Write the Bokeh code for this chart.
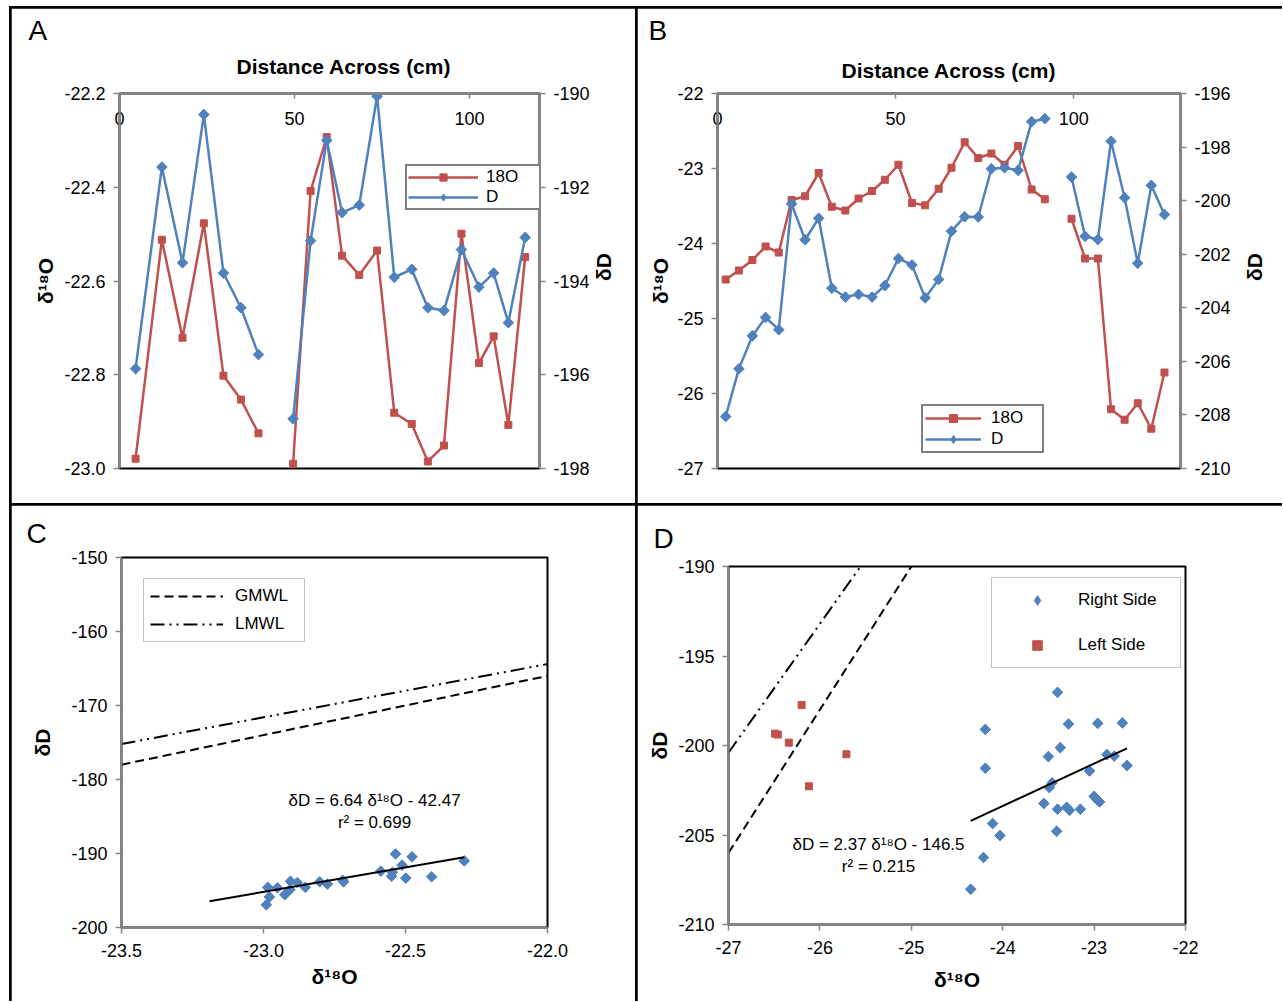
import math
from bokeh.plotting import figure
from bokeh.models import (Range1d, LinearAxis, FixedTicker, NumeralTickFormatter,
                          Legend, LegendItem, Label, Title)
from bokeh.layouts import row, column
from bokeh.embed import file_html
from bokeh.resources import INLINE

FONT = "Liberation Sans"
RED = "#C0504D"
BLUE = "#4F81BD"
GRAY = "#868686"
TICK_SIZE = "18px"
AXL_SIZE = "21px"

# ---------------- data ----------------
# Panel A: transect A (distance across, cm)
a_dist = [4.6, 12.1, 18.0, 24.1, 29.7, 34.7, 39.7, 49.6, 54.6, 59.2, 63.6,
          68.5, 73.6, 78.5, 83.5, 88.1, 92.7, 97.7, 102.7, 106.9, 111.1, 115.9]
a_o18 = [-22.979, -22.512, -22.721, -22.477, -22.802, -22.853, -22.925,
         -22.990, -22.408, -22.293, -22.546, -22.587, -22.535, -22.881,
         -22.905, -22.985, -22.951, -22.499, -22.775, -22.718, -22.907, -22.549]
a_dD = [-195.87, -191.57, -193.61, -190.45, -193.83, -194.57, -195.57,
        -196.94, -193.14, -191.00, -192.54, -192.38, -190.06, -193.92,
        -193.75, -194.57, -194.63, -193.33, -194.13, -193.83, -194.89, -193.07]
a_run = 7  # samples before the gap in the transect

# Panel B: transect B
b_dist = [2.3, 6.0, 9.8, 13.5, 17.2, 20.8, 24.6, 28.4, 32.1, 35.9, 39.6,
          43.4, 47.0, 50.8, 54.6, 58.3, 62.1, 65.7, 69.4, 73.2, 76.9, 80.6,
          84.4, 88.2, 91.9, 99.4, 103.2, 106.8, 110.5, 114.3, 118.0, 121.8, 125.5]
b_o18 = [-24.48, -24.36, -24.22, -24.04, -24.12, -23.42, -23.37, -23.06,
         -23.51, -23.56, -23.40, -23.30, -23.15, -22.95, -23.46, -23.49,
         -23.27, -22.99, -22.65, -22.86, -22.80, -22.95, -22.70, -23.28,
         -23.41, -23.67, -24.20, -24.20, -26.21, -26.35, -26.13, -26.47, -25.72]
b_dD = [-208.06, -206.28, -205.05, -204.36, -204.82, -200.12, -201.46,
        -200.66, -203.27, -203.60, -203.50, -203.60, -203.17, -202.16,
        -202.40, -203.63, -202.94, -201.14, -200.60, -200.61, -198.81,
        -198.77, -198.87, -197.05, -196.94, -199.12, -201.33, -201.45,
        -197.78, -199.89, -202.34, -199.43, -200.52]
b_run = 25

# Panel C: cross plot of transect A
c_o18 = a_o18
c_dD = a_dD
c_slope, c_icpt, c_r2 = 6.64, -42.47, 0.699

# Panel D: cross plot of transect B
d_right_o18 = [-23.40, -24.19, -23.28, -22.96, -22.69, -23.37, -23.50, -22.86,
               -22.78, -24.19, -22.64, -23.05, -23.46, -23.49, -23.00, -22.97,
               -22.94, -23.55, -23.40, -23.30, -23.27, -23.15, -24.11, -24.03,
               -23.41, -24.21, -24.35]
d_right_dD = [-197.03, -199.10, -198.80, -198.76, -198.74, -200.12, -200.62,
              -200.51, -200.59, -201.27, -201.12, -201.42, -202.09, -202.35,
              -202.84, -203.00, -203.15, -203.24, -203.56, -203.45, -203.62,
              -203.56, -204.36, -205.03, -204.79, -206.26, -208.03]
d_left_o18 = [-26.20, -26.49, -26.46, -26.34, -25.71, -26.12]
d_left_dD = [-197.74, -199.34, -199.39, -199.84, -200.49, -202.28]
d_slope, d_icpt, d_r2 = 2.37, -146.5, 0.215

# meteoric water lines
gmwl_slope, gmwl_icpt = 8.0, 10.0
lmwl_slope, lmwl_icpt = 7.2, -6.0


# ---------------- helpers ----------------
def base_fig(w, h, xr, yr, bl, br, bt, bb):
    p = figure(width=w, height=h, x_range=Range1d(*xr), y_range=Range1d(*yr),
               output_backend="svg", toolbar_location=None, tools="",
               x_axis_location=None, y_axis_location=None,
               min_border_left=bl, min_border_right=br,
               min_border_top=bt, min_border_bottom=bb)
    p.grid.visible = False
    p.outline_line_color = "black"
    p.outline_line_width = 2
    p.background_fill_color = "white"
    p.border_fill_color = "white"
    return p


def add_axis(p, side, ticks, fmt, range_name=None, tick_in=0, tick_out=6,
             standoff=8, label=None, label_standoff=5, label_orient=None):
    kw = {}
    if range_name is not None:
        kw["y_range_name"] = range_name
    ax = LinearAxis(ticker=FixedTicker(ticks=ticks, minor_ticks=[]),
                    formatter=NumeralTickFormatter(format=fmt), **kw)
    ax.axis_line_color = GRAY
    ax.axis_line_width = 2
    ax.major_tick_line_color = GRAY
    ax.major_tick_line_width = 1.5
    ax.major_tick_in = tick_in
    ax.major_tick_out = tick_out
    ax.minor_tick_line_color = None
    ax.major_label_standoff = standoff
    ax.major_label_text_font = FONT
    ax.major_label_text_font_size = TICK_SIZE
    ax.major_label_text_color = "black"
    if label is not None:
        ax.axis_label = label
        ax.axis_label_text_font = FONT
        ax.axis_label_text_font_size = AXL_SIZE
        ax.axis_label_text_font_style = "bold"
        ax.axis_label_text_color = "black"
        ax.axis_label_standoff = label_standoff
        if label_orient is not None:
            ax.axis_label_orientation = label_orient
    p.add_layout(ax, side)
    return ax


def add_title(p, text, size, offset, bold=False, standoff=10):
    p.add_layout(Title(text=text, align="left", offset=offset,
                       text_font=FONT, text_font_size=size,
                       text_font_style="bold" if bold else "normal",
                       text_color="black", standoff=standoff), "above")


def add_text(p, x, y, text, size="17px"):
    p.add_layout(Label(x=x, y=y, text=text, text_font=FONT,
                       text_font_size=size, text_align="center",
                       text_baseline="middle", text_color="black"))


def add_legend(p, items, loc, padding, glyph_w, glyph_h, standoff, label_w,
               spacing, border_color, border_w):
    lg = Legend(items=items, location=loc, padding=padding, margin=0,
                glyph_width=glyph_w, glyph_height=glyph_h,
                label_height=glyph_h, label_standoff=standoff,
                label_width=label_w, spacing=spacing,
                label_text_font=FONT, label_text_font_size="17px",
                label_text_color="black",
                border_line_color=border_color, border_line_width=border_w,
                background_fill_color="white", background_fill_alpha=1.0)
    p.add_layout(lg)
    return lg


# blue points: a square turned 45 degrees; a narrower diamond marker sits
# underneath (fully covered) so that the legend can show a diamond key
DIAMOND = dict(marker="square", angle=math.pi / 4, size=7.5)
KEY = dict(marker="diamond", size=10)
RIGHT_UP = math.pi / 2

# ---------------- Panel A ----------------
pA = base_fig(624, 495, (0, 120), (-23.0, -22.2), 108, 96, 85, 35)
pA.extra_y_ranges = {"d": Range1d(-198, -190)}
add_axis(pA, "left", [-23.0, -22.8, -22.6, -22.4, -22.2], "0.0",
         label="δ¹⁸O", label_standoff=4)
add_axis(pA, "right", [-198, -196, -194, -192, -190], "0", range_name="d",
         label="δD", label_standoff=11, label_orient=RIGHT_UP)
add_axis(pA, "above", [0, 50, 100], "0", tick_in=5, tick_out=0, standoff=-31)

ra1 = pA.line(a_dist[:a_run], a_o18[:a_run], line_color=RED, line_width=2.5)
pA.line(a_dist[a_run:], a_o18[a_run:], line_color=RED, line_width=2.5)
ras = pA.scatter(a_dist, a_o18, marker="square", size=7, color=RED)
ba1 = pA.line(a_dist[:a_run], a_dD[:a_run], line_color=BLUE, line_width=2.5,
              y_range_name="d")
pA.line(a_dist[a_run:], a_dD[a_run:], line_color=BLUE, line_width=2.5,
        y_range_name="d")
a_key = pA.scatter(a_dist, a_dD, color=BLUE, y_range_name="d", **KEY)
pA.scatter(a_dist, a_dD, color=BLUE, y_range_name="d", **DIAMOND)
add_legend(pA, [LegendItem(label="18O", renderers=[ra1, ras], index=0),
                LegendItem(label="D", renderers=[ba1, a_key], index=0)],
           (286, 258), 1, 70, 18, 8, 54, 0, "black", 2)
add_title(pA, "Distance Across (cm)", "21px", 117, bold=True, standoff=32)
add_title(pA, "A", "28px", -91, standoff=-18)

# ---------------- Panel B ----------------
pB = base_fig(645, 495, (0, 130), (-27, -22), 80, 102, 85, 35)
pB.extra_y_ranges = {"d": Range1d(-210, -196)}
add_axis(pB, "left", [-27, -26, -25, -24, -23, -22], "0",
         label="δ¹⁸O", label_standoff=2)
add_axis(pB, "right", [-210, -208, -206, -204, -202, -200, -198, -196], "0",
         range_name="d", label="δD", label_standoff=21, label_orient=RIGHT_UP)
add_axis(pB, "above", [0, 50, 100], "0", tick_in=5, tick_out=0, standoff=-31)

rb1 = pB.line(b_dist[:b_run], b_o18[:b_run], line_color=RED, line_width=2.5)
pB.line(b_dist[b_run:], b_o18[b_run:], line_color=RED, line_width=2.5)
rbs = pB.scatter(b_dist, b_o18, marker="square", size=7, color=RED)
bb1 = pB.line(b_dist[:b_run], b_dD[:b_run], line_color=BLUE, line_width=2.5,
              y_range_name="d")
pB.line(b_dist[b_run:], b_dD[b_run:], line_color=BLUE, line_width=2.5,
        y_range_name="d")
b_key = pB.scatter(b_dist, b_dD, color=BLUE, y_range_name="d", **KEY)
pB.scatter(b_dist, b_dD, color=BLUE, y_range_name="d", **DIAMOND)
add_legend(pB, [LegendItem(label="18O", renderers=[rb1, rbs], index=0),
                LegendItem(label="D", renderers=[bb1, b_key], index=0)],
           (204, 15), 2, 56, 20, 10, 49, 1, "black", 2)
add_title(pB, "Distance Across (cm)", "21px", 124, bold=True, standoff=24)
add_title(pB, "B", "28px", -69, standoff=-2)

# ---------------- Panel C ----------------
pC = base_fig(624, 496, (-23.5, -22.0), (-200, -150), 110, 88, 52, 74)
add_axis(pC, "below", [-23.5, -23.0, -22.5, -22.0], "0.0", standoff=10,
         label="δ¹⁸O", label_standoff=5)
add_axis(pC, "left", [-200, -190, -180, -170, -160, -150], "0",
         label="δD", label_standoff=14)

cx = [pC.x_range.start, pC.x_range.end]
g_c = pC.line(cx, [gmwl_slope * v + gmwl_icpt for v in cx], line_color="black",
              line_width=2, line_dash="9 5")
l_c = pC.line(cx, [lmwl_slope * v + lmwl_icpt for v in cx], line_color="black",
              line_width=2, line_dash="14 5 2 5 2 5")
pC.scatter(c_o18, c_dD, color=BLUE, **DIAMOND)
ctx = [min(c_o18) - 0.2, max(c_o18)]
pC.line(ctx, [c_slope * v + c_icpt for v in ctx], line_color="black", line_width=2)
add_legend(pC, [LegendItem(label="GMWL", renderers=[g_c]),
                LegendItem(label="LMWL", renderers=[l_c])],
           (22, 285), 6, 73, 22, 12, 63, 6, GRAY, 1)
add_text(pC, -22.609, -182.84, "δD = 6.64 δ¹⁸O - 42.47")
add_text(pC, -22.609, -185.81, "r² = %.3f" % c_r2)
add_title(pC, "C", "28px", -95, standoff=18)

# ---------------- Panel D ----------------
pD = base_fig(645, 496, (-27, -22), (-210, -190), 91, 97, 61, 77)
add_axis(pD, "below", [-27, -26, -25, -24, -23, -22], "0", standoff=10,
         label="δ¹⁸O", label_standoff=11)
add_axis(pD, "left", [-210, -205, -200, -195, -190], "0",
         label="δD", label_standoff=4)

dx = [pD.x_range.start, pD.x_range.end]
pD.line(dx, [gmwl_slope * v + gmwl_icpt for v in dx], line_color="black",
        line_width=2, line_dash="9 5")
pD.line(dx, [lmwl_slope * v + lmwl_icpt for v in dx], line_color="black",
        line_width=2, line_dash="14 5 2 5 2 5")
d_key = pD.scatter(d_right_o18, d_right_dD, color=BLUE, **KEY)
pD.scatter(d_right_o18, d_right_dD, color=BLUE, **DIAMOND)
l_d = pD.scatter(d_left_o18, d_left_dD, marker="square", size=7, color=RED)
dtx = [min(d_right_o18), max(d_right_o18)]
pD.line(dtx, [d_slope * v + d_icpt for v in dtx], line_color="black", line_width=2)
add_legend(pD, [LegendItem(label="Right Side", renderers=[d_key], index=0),
                LegendItem(label="Left Side", renderers=[l_d], index=0)],
           (263, 256), 10, 70, 24, 6, 92, 21, GRAY, 1)
add_text(pD, -25.359, -205.51, "δD = 2.37 δ¹⁸O - 146.5")
add_text(pD, -25.359, -206.74, "r² = %.3f" % d_r2)
add_title(pD, "D", "28px", -75, standoff=26)

# ---------------- layout ----------------
layout = column(row(column(pA), column(pB), spacing=2),
                row(column(pC), column(pD), spacing=2), spacing=2,
                styles={"background-color": "black",
                        "margin": "6px 0px 0px 9px",
                        "padding": "2px 0px 0px 2px"})

open("out.html", "w").write(file_html(layout, INLINE, title="Isotope transects"))
